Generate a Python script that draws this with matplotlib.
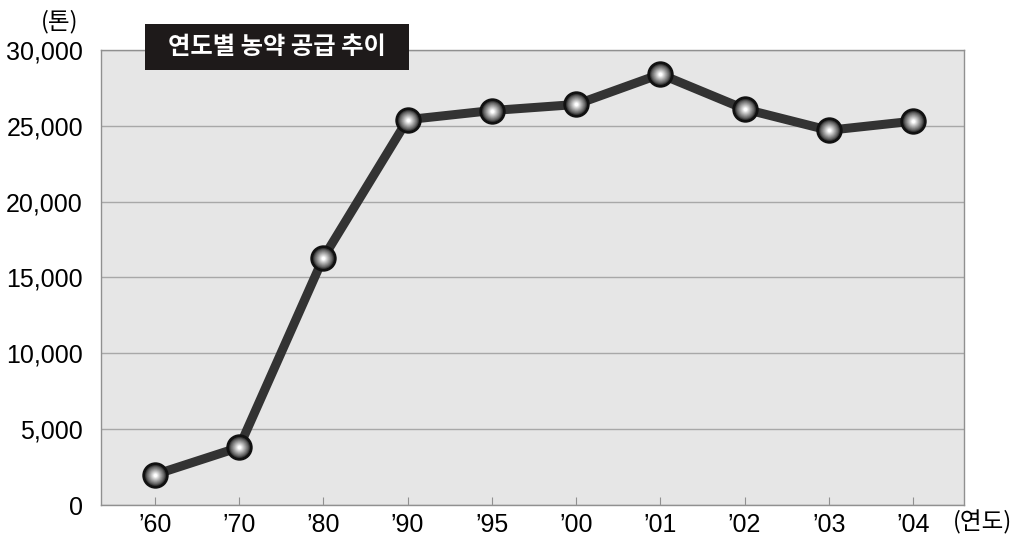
import matplotlib
matplotlib.use("Agg")
import matplotlib.pyplot as plt
import numpy as np
from matplotlib.patches import Rectangle

plt.rcParams['font.family'] = ['Liberation Sans', 'Noto Sans CJK KR', 'DejaVu Sans']

# data
years = ["’60", "’70", "’80", "’90", "’95", "’00", "’01", "’02", "’03", "’04"]
supply = [2000, 3800, 16300, 25400, 26000, 26400, 28400, 26100, 24700, 25300]
y_ticks = [0, 5000, 10000, 15000, 20000, 25000, 30000]

fig = plt.figure(figsize=(10.16, 5.38), dpi=100)
ax = fig.add_axes([0.0994, 0.0613, 0.849, 0.846])
ax.set_facecolor('#e6e6e6')

x = np.arange(len(years))
ax.plot(x, supply, color='#333333', lw=6.5, solid_capstyle='round', zorder=3)

# shaded sphere markers
ax.plot(x, supply, 'o', ms=17, mfc='#3a3a3a', mec='#111111', mew=2, zorder=4)
shades = np.linspace(0.35, 1.0, 10)
sizes = np.linspace(13.5, 2.5, 10)
for s, c in zip(sizes, shades):
    ax.plot(x, supply, 'o', ms=s, mfc=str(c), mec='none', zorder=5)

ax.set_xlim(-0.64, 9.6)
ax.set_ylim(0, 30000)
ax.set_yticks(y_ticks)
ax.set_yticklabels([f"{v:,}" for v in y_ticks])
ax.set_xticks(x)
ax.set_xticklabels(years)
ax.yaxis.grid(True, color='#a8a8a8', lw=1)
ax.set_axisbelow(True)
for sp in ax.spines.values():
    sp.set_color('#909090')
    sp.set_linewidth(1)
ax.tick_params(axis='x', direction='in', length=6, color='#909090', labelsize=18, pad=6)
ax.tick_params(axis='y', length=0, labelsize=18, pad=13)

kr = ['Noto Sans CJK KR', 'DejaVu Sans']
fig.text(0.059, 0.960, "(톤)", fontsize=17, ha='center', va='center', family=kr)
fig.text(0.996, 0.030, "(연도)", fontsize=17, ha='right', va='center', family=kr)

# title box
fig.patches.append(Rectangle((145 / 1016, 1 - 70 / 538), 264 / 1016, 46 / 538,
                             transform=fig.transFigure, facecolor='#1e1a1a',
                             edgecolor='none', zorder=10))
fig.text(277 / 1016, 1 - 47 / 538, "연도별 농약 공급 추이", color='white',
         fontsize=17.5, fontweight='bold', ha='center', va='center', zorder=11,
         family=kr)

fig.savefig("out.png", dpi=100)
